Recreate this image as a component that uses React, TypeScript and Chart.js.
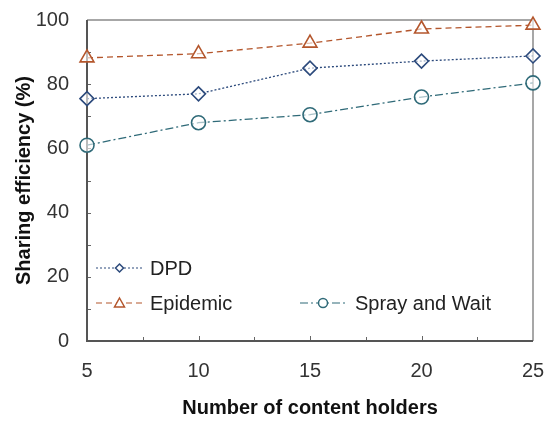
import React, { useEffect, useRef } from "react";
import { Chart, registerables } from "chart.js";

Chart.register(...registerables);

const holders = [5, 10, 15, 20, 25];
const dpd = [75.5, 77, 85, 87.2, 88.8];
const epidemic = [88.2, 89.5, 92.8, 97.2, 98.4];
const sprayWait = [61, 68, 70.5, 76, 80.4];
const yTicks = [0, 20, 40, 60, 80, 100];
const xTicks = [5, 10, 15, 20, 25];

const FONT = "'Liberation Sans', Arial, sans-serif";

const framePlugin = {
  id: "frameTicksLegend",
  beforeDatasetsDraw(chart: any) {
    const { ctx, chartArea: a, scales } = chart;
    const xs = scales.x;
    const ys = scales.y;
    ctx.save();
    ctx.strokeStyle = "#666";
    ctx.lineWidth = 1;
    for (let v = 10; v < 100; v += 10) {
      const py = Math.round(ys.getPixelForValue(v)) + 0.5;
      ctx.beginPath();
      ctx.moveTo(a.left, py);
      ctx.lineTo(a.left + 4, py);
      ctx.stroke();
    }
    for (let v = 7.5; v < 25; v += 2.5) {
      const px = Math.round(xs.getPixelForValue(v)) + 0.5;
      ctx.beginPath();
      ctx.moveTo(px, a.bottom);
      ctx.lineTo(px, a.bottom - (v % 5 === 0 ? 5 : 4));
      ctx.stroke();
    }
    ctx.strokeStyle = "#8a8a8a";
    ctx.lineWidth = 1.5;
    ctx.beginPath();
    ctx.moveTo(a.left, a.top);
    ctx.lineTo(a.right, a.top);
    ctx.lineTo(a.right, a.bottom);
    ctx.stroke();
    ctx.strokeStyle = "#555";
    ctx.lineWidth = 2;
    ctx.beginPath();
    ctx.moveTo(a.left, a.top);
    ctx.lineTo(a.left, a.bottom);
    ctx.lineTo(a.right, a.bottom);
    ctx.stroke();
    ctx.restore();
  },
  afterDraw(chart: any) {
    const { ctx } = chart;
    ctx.save();
    const items = [
      { ds: 0, x0: 96, x1: 143, y: 268, tx: 150, r: 4 },
      { ds: 1, x0: 96, x1: 143, y: 303, tx: 150, r: 5 },
      { ds: 2, x0: 300, x1: 346, y: 303, tx: 355, r: 4.5 },
    ];
    items.forEach((it) => {
      const ds = chart.data.datasets[it.ds];
      ctx.strokeStyle = ds.borderColor;
      ctx.lineWidth = 1.1;
      ctx.setLineDash(ds.borderDash);
      ctx.beginPath();
      ctx.moveTo(it.x0, it.y);
      ctx.lineTo(it.x1, it.y);
      ctx.stroke();
      ctx.setLineDash([]);
      const mx = (it.x0 + it.x1) / 2;
      ctx.fillStyle = "#fff";
      ctx.lineWidth = 1.5;
      const r = it.r;
      ctx.beginPath();
      if (ds.pointStyle === "triangle") {
        ctx.moveTo(mx, it.y - r);
        ctx.lineTo(mx + r, it.y + r * 0.8);
        ctx.lineTo(mx - r, it.y + r * 0.8);
        ctx.closePath();
      } else if (ds.pointStyle === "rectRot") {
        ctx.moveTo(mx, it.y - r);
        ctx.lineTo(mx + r, it.y);
        ctx.lineTo(mx, it.y + r);
        ctx.lineTo(mx - r, it.y);
        ctx.closePath();
      } else {
        ctx.arc(mx, it.y, r, 0, Math.PI * 2);
      }
      ctx.fill();
      ctx.stroke();
      ctx.fillStyle = "#222";
      ctx.font = `20px ${FONT}`;
      ctx.textBaseline = "middle";
      ctx.textAlign = "left";
      ctx.fillText(ds.label, it.tx, it.y + 1);
    });
    ctx.restore();
  },
};

export default function App() {
  const ref = useRef<HTMLCanvasElement | null>(null);
  useEffect(() => {
    document.body.style.margin = "0";
    const canvas = ref.current!;
    const mk = (vals: number[]) => holders.map((x, i) => ({ x, y: vals[i] }));
    const chart = new Chart(canvas, {
      type: "line",
      data: {
        datasets: [
          {
            label: "DPD",
            data: mk(dpd),
            borderColor: "#2c4a7c",
            borderWidth: 1.3,
            borderDash: [2, 2],
            pointStyle: "rectRot",
            pointRadius: 7,
            pointBorderWidth: 1.6,
            pointBackgroundColor: "rgba(255,255,255,0.6)",
            pointBorderColor: "#2c4a7c",
            clip: false,
          },
          {
            label: "Epidemic",
            data: mk(epidemic),
            borderColor: "#b4562c",
            borderWidth: 1.3,
            borderDash: [6, 4],
            pointStyle: "triangle",
            pointRadius: 8,
            pointBorderWidth: 1.6,
            pointBackgroundColor: "rgba(255,255,255,0.6)",
            pointBorderColor: "#b4562c",
            clip: false,
          },
          {
            label: "Spray and Wait",
            data: mk(sprayWait),
            borderColor: "#2f6a78",
            borderWidth: 1.3,
            borderDash: [8, 3, 2, 3],
            pointStyle: "circle",
            pointRadius: 7,
            pointBorderWidth: 1.6,
            pointBackgroundColor: "rgba(255,255,255,0.6)",
            pointBorderColor: "#2f6a78",
            clip: false,
          },
        ] as any,
      },
      options: {
        animation: false,
        responsive: false,
        layout: { padding: { top: 20, right: 17, left: 0, bottom: 0 } },
        plugins: { legend: { display: false }, tooltip: { enabled: false } },
        scales: {
          x: {
            type: "linear",
            min: 5,
            max: 25,
            afterFit: (s: any) => {
              s.height = 82;
              s.paddingLeft = 0;
              s.paddingRight = 0;
            },
            afterBuildTicks: (s: any) => {
              s.ticks = xTicks.map((v) => ({ value: v }));
            },
            grid: { display: false, drawTicks: false },
            border: { display: false },
            ticks: {
              padding: 18,
              color: "#333",
              font: { family: FONT, size: 20 },
            },
            title: {
              display: true,
              text: "Number of content holders",
              color: "#111",
              font: { family: FONT, size: 20, weight: "bold" },
              padding: { top: 8, bottom: 3 },
            },
          },
          y: {
            min: 0,
            max: 100,
            afterFit: (s: any) => {
              s.width = 87;
              s.paddingTop = 0;
              s.paddingBottom = 0;
            },
            afterBuildTicks: (s: any) => {
              s.ticks = yTicks.map((v) => ({ value: v }));
            },
            grid: { display: false, drawTicks: false },
            border: { display: false },
            ticks: {
              padding: 18,
              color: "#333",
              font: { family: FONT, size: 20 },
            },
            title: {
              display: true,
              text: "Sharing efficiency (%)",
              color: "#111",
              font: { family: FONT, size: 20, weight: "bold" },
              padding: { top: 12, bottom: 0 },
            },
          },
        },
      } as any,
      plugins: [framePlugin],
    });
    return () => chart.destroy();
  }, []);
  return (
    <div style={{ position: "absolute", left: 0, top: 0, width: 550, height: 423, background: "#fff" }}>
      <canvas ref={ref} width={550} height={423} style={{ display: "block" }} />
    </div>
  );
}
